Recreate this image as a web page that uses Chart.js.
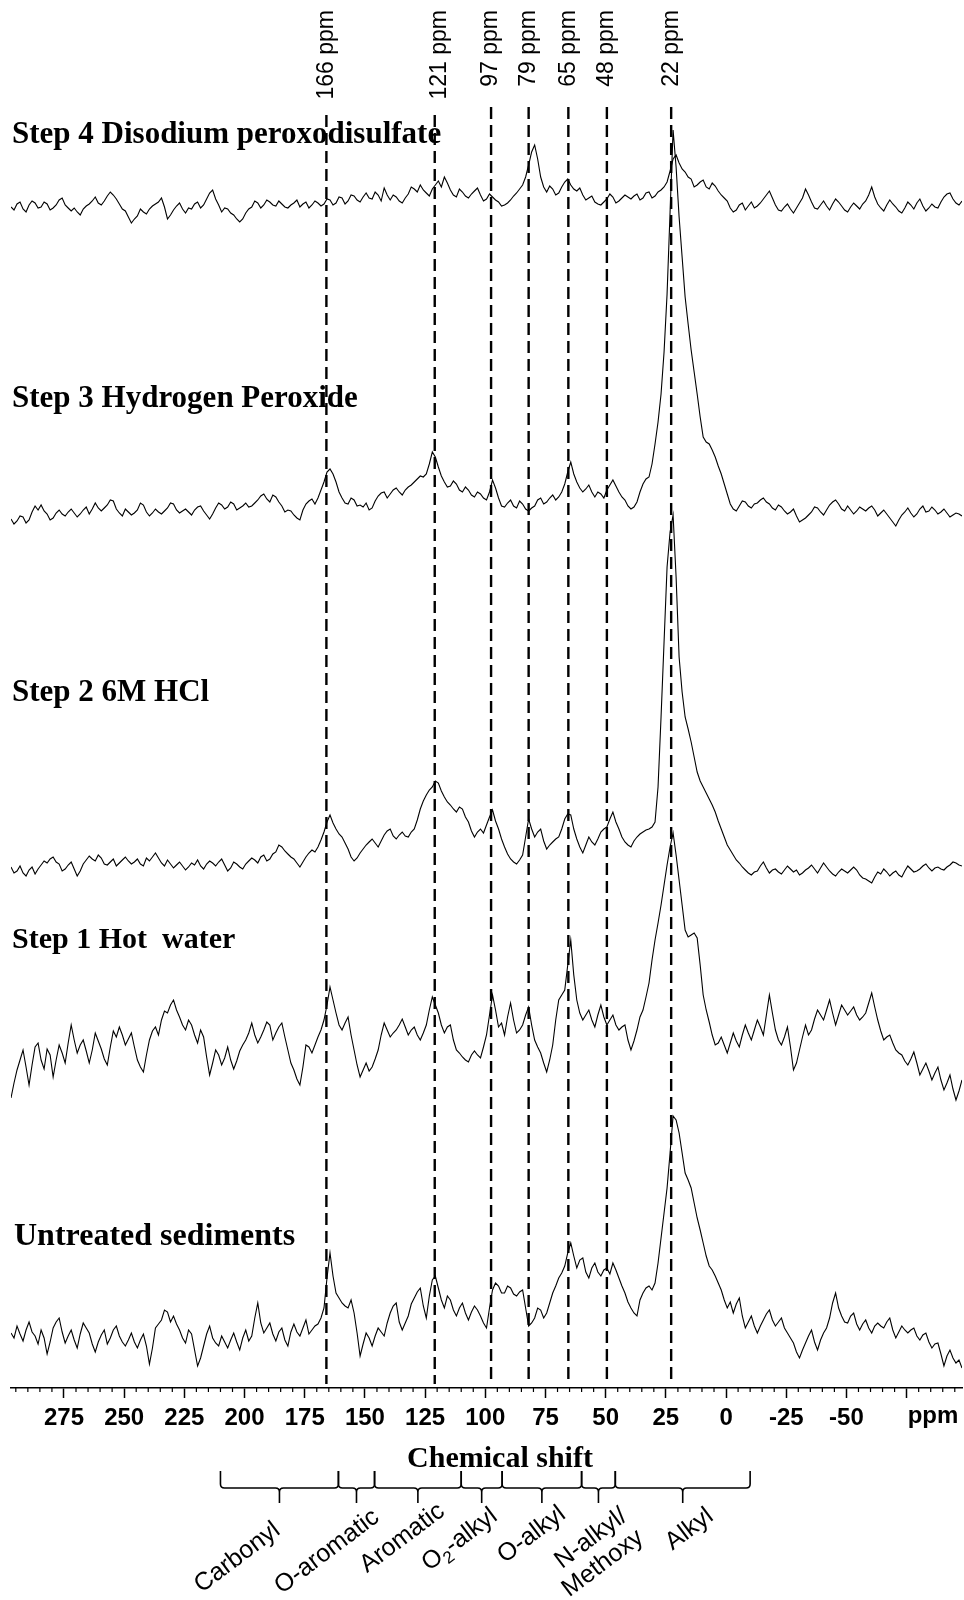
<!DOCTYPE html>
<html>
<head>
<meta charset="utf-8">
<script src="https://cdn.jsdelivr.net/npm/chart.js@4.4.1/dist/chart.umd.min.js"></script>
<style>
  body { margin: 0; background: #fff; }
  #wrap { width: 964px; height: 1600px; }
</style>
</head>
<body>
<div id="wrap"><canvas id="nmr" width="964" height="1600"></canvas></div>
<script>
// chemical shift grid (ppm), 1.25 ppm apart, left to right
const ppm = [297, 295.75, 294.5, 293.25, 292, 290.75, 289.5, 288.25,
  287, 285.75, 284.5, 283.25, 282, 280.75, 279.5, 278.25,
  277, 275.75, 274.5, 273.25, 272, 270.75, 269.5, 268.25,
  267, 265.75, 264.5, 263.25, 262, 260.75, 259.5, 258.25,
  257, 255.75, 254.5, 253.25, 252, 250.75, 249.5, 248.25,
  247, 245.75, 244.5, 243.25, 242, 240.75, 239.5, 238.25,
  237, 235.75, 234.5, 233.25, 232, 230.75, 229.5, 228.25,
  227, 225.75, 224.5, 223.25, 222, 220.75, 219.5, 218.25,
  217, 215.75, 214.5, 213.25, 212, 210.75, 209.5, 208.25,
  207, 205.75, 204.5, 203.25, 202, 200.75, 199.5, 198.25,
  197, 195.75, 194.5, 193.25, 192, 190.75, 189.5, 188.25,
  187, 185.75, 184.5, 183.25, 182, 180.75, 179.5, 178.25,
  177, 175.75, 174.5, 173.25, 172, 170.75, 169.5, 168.25,
  167, 165.75, 164.5, 163.25, 162, 160.75, 159.5, 158.25,
  157, 155.75, 154.5, 153.25, 152, 150.75, 149.5, 148.25,
  147, 145.75, 144.5, 143.25, 142, 140.75, 139.5, 138.25,
  137, 135.75, 134.5, 133.25, 132, 130.75, 129.5, 128.25,
  127, 125.75, 124.5, 123.25, 122, 120.75, 119.5, 118.25,
  117, 115.75, 114.5, 113.25, 112, 110.75, 109.5, 108.25,
  107, 105.75, 104.5, 103.25, 102, 100.75, 99.5, 98.25,
  97, 95.75, 94.5, 93.25, 92, 90.75, 89.5, 88.25,
  87, 85.75, 84.5, 83.25, 82, 80.75, 79.5, 78.25,
  77, 75.75, 74.5, 73.25, 72, 70.75, 69.5, 68.25,
  67, 65.75, 64.5, 63.25, 62, 60.75, 59.5, 58.25,
  57, 55.75, 54.5, 53.25, 52, 50.75, 49.5, 48.25,
  47, 45.75, 44.5, 43.25, 42, 40.75, 39.5, 38.25,
  37, 35.75, 34.5, 33.25, 32, 30.75, 29.5, 28.25,
  27, 25.75, 24.5, 23.25, 22, 20.75, 19.5, 18.25,
  17, 15.75, 14.5, 13.25, 12, 10.75, 9.5, 8.25,
  7, 5.75, 4.5, 3.25, 2, 0.75, -0.5, -1.75,
  -3, -4.25, -5.5, -6.75, -8, -9.25, -10.5, -11.75,
  -13, -14.25, -15.5, -16.75, -18, -19.25, -20.5, -21.75,
  -23, -24.25, -25.5, -26.75, -28, -29.25, -30.5, -31.75,
  -33, -34.25, -35.5, -36.75, -38, -39.25, -40.5, -41.75,
  -43, -44.25, -45.5, -46.75, -48, -49.25, -50.5, -51.75,
  -53, -54.25, -55.5, -56.75, -58, -59.25, -60.5, -61.75,
  -63, -64.25, -65.5, -66.75, -68, -69.25, -70.5, -71.75,
  -73, -74.25, -75.5, -76.75, -78, -79.25, -80.5, -81.75,
  -83, -84.25, -85.5, -86.75, -88, -89.25, -90.5, -91.75,
  -93, -94.25, -95.5, -96.75, -98];

// intensities above each trace's own baseline (arbitrary units)
const step4 = [0, -3, 3, 5, -2, -5, 2, 6, 4, -1, 0, 5, 3, -3, -1, 2, 7, 9, 2, -1,
  -4, -1, -5, -8, -2, 1, 3, 6, 10, 4, 2, 6, 11, 15, 12, 8, 3, -2, -4, -10,
  -16, -12, -9, -2, -5, -7, -2, 1, 3, 5, 9, 0, -12, -8, -3, 1, 4, -2, -6, -1,
  -2, 3, 5, -1, 2, 8, 14, 17, 8, 2, -5, -1, -2, -6, -8, -12, -15, -12, -6, -2,
  0, 6, 4, -1, 2, 7, 5, 2, 1, 6, 3, 0, -1, 2, 4, 7, 0, 3, 5, -1,
  2, 6, 4, 1, 3, 8, 7, 2, 4, 10, 9, 3, 6, 12, 11, 7, 5, 10, 14, 9,
  8, 15, 12, 6, 19, 12, 7, 12, 10, 6, 4, 9, 13, 20, 18, 15, 22, 17, 14, 11,
  18, 22, 26, 20, 30, 24, 17, 12, 10, 18, 15, 11, 9, 13, 16, 19, 12, 6, 8, 13,
  10, 7, 5, 1, 2, 4, 7, 11, 14, 18, 22, 30, 42, 55, 62, 48, 30, 20, 15, 21,
  18, 12, 14, 20, 25, 28, 22, 18, 16, 19, 12, 7, 9, 11, 5, 3, 2, 5, 8, 13,
  10, 4, 6, 9, 12, 10, 8, 11, 13, 7, 9, 14, 15, 9, 11, 15, 17, 20, 25, 36,
  48, 52, 44, 38, 35, 30, 28, 20, 22, 25, 27, 20, 18, 24, 21, 16, 12, 9, 6, -1,
  -5, -3, 2, 4, -3, 1, 5, -1, 1, 4, 8, 12, 16, 9, 2, -3, -4, 0, 3, -2,
  -6, -1, 4, 9, 18, 12, 5, -1, -2, 2, 6, 1, -3, 3, 8, 5, 1, -3, -5, 0,
  4, 1, -2, 3, 6, 12, 20, 10, 3, -1, -4, 2, 7, 3, 0, -4, -6, -1, 5, 2,
  -2, 4, 8, 1, -4, -1, 3, 0, -1, 5, 10, 13, 14, 8, 4, 2, 6];
const step3 = [-7, -12, -9, -4, -5, -11, -8, 0, 6, 2, 7, 1, -2, -8, -6, -1, 2, -2, -4, 0,
  3, -1, -5, -2, 2, 5, -2, 3, 9, 4, 1, 4, 7, 12, 11, 3, -1, -4, 3, 0,
  -3, -1, 2, 9, 7, 0, -4, -1, 3, 0, -2, 1, 4, 9, 8, 2, -1, 1, 3, 0,
  -3, 2, 5, 6, 1, -3, -7, -2, 4, 9, 7, 3, 5, 10, 8, 2, 4, 6, 9, 5,
  6, 9, 12, 16, 18, 13, 10, 17, 15, 10, 6, 0, 2, 1, -3, -6, -8, 2, 8, 11,
  13, 8, 14, 22, 30, 40, 43, 38, 30, 20, 14, 9, 8, 14, 12, 6, 7, 5, 9, 2,
  4, 11, 16, 19, 20, 14, 18, 22, 24, 20, 17, 22, 25, 27, 30, 33, 36, 35, 38, 48,
  60, 55, 45, 36, 30, 25, 26, 31, 28, 22, 20, 25, 22, 17, 15, 20, 18, 14, 12, 20,
  32, 24, 14, 6, 5, 9, 12, 6, 4, 11, 8, 3, 1, 4, 6, 12, 14, 8, 10, 14,
  17, 12, 15, 20, 28, 40, 50, 38, 30, 24, 20, 23, 27, 20, 15, 20, 18, 14, 22, 27,
  32, 26, 20, 15, 12, 6, 3, 5, 10, 20, 28, 33, 35, 48, 68, 90, 118, 160, 218, 300,
  382, 345, 295, 255, 215, 188, 162, 140, 118, 95, 75, 70, 68, 62, 55, 46, 38, 28, 18, 8,
  3, 1, 6, 11, 10, 6, 4, 8, 9, 12, 14, 10, 8, 4, 2, 7, 5, 1, -2, 0,
  3, -4, -10, -8, -6, -3, 0, 5, 4, 0, -3, 2, 7, 10, 12, 8, 3, 1, 6, 2,
  -2, 1, 5, 3, 1, 4, 6, 2, -4, -1, 2, -2, -6, -10, -14, -8, -3, 0, 4, -1,
  -5, -2, 3, 6, 0, 1, 5, 2, -2, 0, 3, -1, -5, -3, -1, -2, -4];
const step2 = [0, -6, -4, 1, -6, -9, -3, 0, -7, -2, 2, 6, 4, 8, 10, 5, 3, -4, -2, 2,
  5, -2, -9, -4, 3, 7, 11, 8, 6, 12, 9, 3, 2, 5, 8, 1, 4, 7, 10, 6,
  3, 5, 8, 3, 1, 9, 6, 10, 14, 9, 4, 1, 7, 3, -1, 2, 5, 1, -3, 0,
  4, 2, 7, 1, -2, 3, 6, 4, 1, 5, 8, 2, -4, -1, 5, 3, 0, -2, 3, 6,
  9, 7, 4, 10, 12, 6, 8, 13, 15, 22, 20, 16, 13, 10, 8, 4, 0, 5, 10, 14,
  17, 15, 20, 27, 35, 45, 52, 44, 38, 33, 30, 24, 18, 10, 6, 9, 14, 18, 22, 25,
  28, 24, 20, 26, 32, 36, 38, 31, 28, 32, 35, 31, 30, 35, 38, 47, 58, 66, 72, 77,
  80, 86, 84, 76, 70, 65, 62, 58, 55, 60, 58, 50, 45, 36, 30, 35, 38, 34, 42, 50,
  57, 46, 38, 28, 20, 13, 8, 5, 3, 7, 12, 30, 48, 38, 30, 35, 38, 26, 18, 22,
  25, 28, 30, 38, 48, 53, 52, 38, 28, 20, 14, 22, 30, 25, 22, 28, 35, 38, 40, 48,
  55, 45, 38, 30, 25, 22, 20, 26, 30, 33, 35, 37, 38, 40, 45, 80, 150, 225, 300, 335,
  352, 290, 210, 175, 150, 138, 125, 110, 95, 86, 80, 74, 68, 62, 55, 46, 38, 30, 22, 17,
  12, 7, 4, 0, -3, -6, -8, -5, -4, 1, 5, -1, -6, -3, -2, -5, -7, -3, 1, -2,
  -5, -3, -8, -6, -3, -1, 2, -2, -6, -1, 4, 0, -4, -7, -9, -5, -2, -4, -6, -3,
  0, -3, -8, -11, -12, -14, -16, -10, -5, -7, -2, -5, -9, -6, -4, -8, -10, -4, 1, -2,
  -5, -4, -2, 1, 3, -1, -4, -1, 0, -2, -3, 0, 2, 5, 4, 2, 1];
const step1 = [-43, -28, -15, -5, 5, -12, -30, -10, 8, 12, -5, -14, 6, 0, -22, -5, 10, 2, -8, 12,
  30, 15, 2, 10, 15, 4, -8, 5, 22, 14, 6, -4, -10, 8, 24, 18, 28, 20, 10, 16,
  22, 8, -5, -12, -17, 0, 15, 24, 28, 20, 35, 44, 42, 50, 55, 45, 38, 30, 25, 35,
  30, 20, 12, 25, 18, -2, -20, -8, 5, 0, -10, -3, 8, -5, -14, -6, 4, 10, 15, 22,
  32, 20, 12, 18, 25, 33, 30, 15, 22, 28, 32, 18, 5, -8, -15, -24, -30, -12, 10, 8,
  2, 10, 18, 25, 35, 50, 68, 55, 42, 30, 25, 32, 38, 20, 5, -10, -22, -15, -8, -16,
  -12, -4, 5, 20, 32, 25, 18, 22, 25, 30, 36, 28, 20, 25, 28, 20, 15, 22, 30, 45,
  58, 50, 42, 30, 22, 28, 30, 15, 5, 2, -2, -5, -7, 0, 4, 0, -3, 8, 20, 40,
  60, 45, 28, 32, 20, 38, 52, 35, 22, 25, 30, 40, 48, 30, 15, 8, 2, -8, -17, -5,
  10, 35, 55, 60, 65, 90, 115, 80, 55, 42, 35, 40, 45, 35, 28, 40, 50, 38, 30, 35,
  40, 30, 25, 28, 30, 15, 5, 14, 25, 38, 45, 58, 72, 95, 115, 132, 150, 170, 190, 208,
  222, 200, 175, 150, 125, 118, 120, 122, 117, 90, 60, 45, 33, 20, 10, 12, 18, 10, 2, 12,
  22, 14, 8, 20, 30, 22, 15, 25, 35, 28, 20, 40, 60, 42, 25, 15, 10, 18, 28, 8,
  -15, -8, 5, 18, 30, 20, 25, 36, 45, 40, 35, 45, 55, 42, 30, 40, 50, 45, 40, 44,
  48, 40, 35, 38, 42, 52, 62, 48, 35, 24, 15, 18, 20, 12, 5, 2, 0, -6, -10, -4,
  3, -8, -20, -14, -8, -16, -25, -18, -12, -25, -35, -28, -20, -34, -45, -36, -25];
const untreated = [5, 0, 12, 4, -3, 8, 16, 6, 2, -6, 8, 0, -16, -4, 10, 16, 20, 6, -5, 2,
  8, -2, -10, 4, 15, 10, 5, -6, -14, -4, 3, 8, -6, 0, 8, 12, 2, -4, -8, -2,
  5, -4, -10, -2, 4, -8, -26, -10, 10, 14, 18, 28, 26, 16, 22, 14, 8, 0, -5, 8,
  4, -12, -28, -20, -8, 4, 12, 0, -5, -8, 2, -4, -10, -2, 5, -4, -12, 0, 8, -3,
  2, 20, 35, 15, 5, 10, 15, 4, -3, 6, 10, -2, -8, 6, 14, 6, 2, 10, 18, 4,
  8, 12, 14, 20, 30, 60, 85, 62, 45, 40, 35, 32, 30, 38, 25, 5, -18, -6, 5, 0,
  -8, 2, 10, 6, 2, 15, 25, 32, 35, 16, 8, 15, 22, 34, 40, 46, 50, 32, 20, 42,
  58, 62, 50, 38, 30, 42, 38, 28, 22, 30, 35, 25, 18, 26, 32, 28, 22, 15, 10, 30,
  48, 55, 52, 45, 45, 52, 50, 44, 42, 46, 48, 30, 12, 15, 20, 30, 28, 20, 25, 35,
  45, 52, 60, 65, 72, 85, 95, 82, 70, 78, 80, 66, 60, 70, 75, 66, 62, 68, 70, 64,
  75, 68, 60, 52, 45, 36, 30, 25, 22, 38, 45, 50, 52, 48, 55, 75, 100, 125, 150, 185,
  222, 218, 205, 185, 165, 158, 150, 135, 120, 108, 95, 82, 72, 68, 62, 55, 48, 38, 30, 36,
  25, 34, 40, 22, 10, 16, 22, 12, 5, 12, 18, 24, 28, 18, 12, 16, 20, 10, 5, 0,
  -5, -14, -20, -12, -5, 2, 8, -4, -12, -2, 5, 10, 20, 35, 45, 30, 22, 16, 15, 22,
  25, 14, 8, 14, 18, 10, 5, 12, 15, 12, 10, 16, 20, 8, 0, 6, 12, 8, 5, 8,
  10, 2, -2, 3, 5, -4, -10, -6, -5, -16, -28, -18, -12, -20, -25, -22, -30];

const traceNames = ['Step 4 Disodium peroxodisulfate', 'Step 3 Hydrogen Peroxide', 'Step 2 6M HCl', 'Step 1 Hot  water', 'Untreated sediments'];
const traceSeries = [step4, step3, step2, step1, untreated];
const traceOffsets = [1181, 876, 521, 333, 50];   // vertical stacking of the spectra

const peakPpm = [166, 121, 97.6, 82, 65.5, 49.5, 22.8];
const peakLabels = ['166 ppm', '121 ppm', '97 ppm', '79 ppm', '65 ppm', '48 ppm', '22 ppm'];

const regionEdges = [210, 161, 146, 110, 93, 60, 46, -10];
const regionNames = ['Carbonyl', 'O-aromatic', 'Aromatic', 'O₂-alkyl', 'O-alkyl', 'N-alkyl/|Methoxy', 'Alkyl'];

const SERIF = '"Liberation Serif", "Times New Roman", serif';
const SANS = '"Liberation Sans", Arial, sans-serif';

// right-aligned text at the origin; a ₂ is drawn as a lowered small 2
function drawRegionText(ctx, str, y) {
  const parts = str.split('₂');
  ctx.font = '25px ' + SANS;
  if (parts.length === 1) {
    ctx.textAlign = 'right';
    ctx.fillText(str, 0, y);
    return;
  }
  const w0 = ctx.measureText(parts[0]).width;
  const w2 = ctx.measureText(parts[1]).width;
  ctx.font = '17px ' + SANS;
  const ws = ctx.measureText('2').width;
  let cx = -(w0 + ws + w2);
  ctx.textAlign = 'left';
  ctx.font = '25px ' + SANS;
  ctx.fillText(parts[0], cx, y);
  cx += w0;
  ctx.font = '17px ' + SANS;
  ctx.fillText('2', cx, y + 6);
  cx += ws;
  ctx.font = '25px ' + SANS;
  ctx.fillText(parts[1], cx, y);
}

const annotations = {
  id: 'annotations',
  afterDatasetsDraw(chart) {
    const ctx = chart.ctx;
    const xs = chart.scales.x;
    const dashTop = [115, 115, 107, 107, 107, 107, 107];
    ctx.save();
    ctx.strokeStyle = '#000';
    ctx.lineWidth = 2.4;
    ctx.setLineDash([12, 6]);
    peakPpm.forEach((p, i) => {
      const px = xs.getPixelForValue(p);
      ctx.beginPath();
      ctx.moveTo(px, dashTop[i]);
      ctx.lineTo(px, chart.chartArea.bottom - 4);
      ctx.stroke();
    });
    ctx.restore();
  },
  afterDraw(chart) {
    const ctx = chart.ctx;
    const xs = chart.scales.x;
    const axisY = chart.chartArea.bottom;
    ctx.save();
    ctx.fillStyle = '#000';
    ctx.strokeStyle = '#000';

    // minor ticks every 5 ppm
    ctx.lineWidth = 1.2;
    for (let v = -95; v <= 295; v += 5) {
      if (v % 25 === 0) continue;
      const px = xs.getPixelForValue(v);
      ctx.beginPath();
      ctx.moveTo(px, axisY);
      ctx.lineTo(px, axisY + 4);
      ctx.stroke();
    }

    // unit in place of the -75 label
    ctx.font = 'bold 24px ' + SANS;
    ctx.textAlign = 'center';
    ctx.textBaseline = 'top';
    ctx.fillText('ppm', 933, axisY + 16);

    // peak labels, rotated
    ctx.font = '23px ' + SANS;
    ctx.textBaseline = 'middle';
    peakPpm.forEach((p, i) => {
      const px = xs.getPixelForValue(p) + (i === 1 ? 5 : 0);
      ctx.save();
      ctx.translate(px, 10);
      ctx.rotate(-Math.PI / 2);
      ctx.textAlign = 'right';
      ctx.fillText(peakLabels[i], 0, 0);
      ctx.restore();
    });

    // trace names
    const nameY = [143, 407, 701, 948, 1245];
    const nameSize = [31, 31, 31, 30, 32];
    ctx.textAlign = 'left';
    ctx.textBaseline = 'alphabetic';
    traceNames.forEach((n, i) => {
      ctx.font = 'bold ' + nameSize[i] + 'px ' + SERIF;
      ctx.fillText(n, i === 4 ? 14 : 12, nameY[i]);
    });

    // axis title
    ctx.font = 'bold 30px ' + SERIF;
    ctx.textAlign = 'center';
    ctx.fillText('Chemical shift', 500, 1467);

    // region braces
    const top = 1471, hy = 1488, tipY = 1503, r = 4;
    const labelDx = [2, 24, 28, 17, 25, 30, 32];
    const labelY = [1533, 1520, 1514, 1519, 1517, 1519, 1519];
    ctx.lineWidth = 1.6;
    for (let i = 0; i < regionNames.length; i++) {
      const x0 = xs.getPixelForValue(regionEdges[i]);
      const x1 = xs.getPixelForValue(regionEdges[i + 1]);
      const tx = (x0 + x1) / 2;
      ctx.beginPath();
      ctx.moveTo(x0, top);
      ctx.lineTo(x0, hy - r);
      ctx.quadraticCurveTo(x0, hy, x0 + r, hy);
      ctx.lineTo(tx - r, hy);
      ctx.quadraticCurveTo(tx, hy, tx, hy + r);
      ctx.lineTo(tx, tipY);
      ctx.moveTo(tx, hy + r);
      ctx.quadraticCurveTo(tx, hy, tx + r, hy);
      ctx.lineTo(x1 - r, hy);
      ctx.quadraticCurveTo(x1, hy, x1, hy - r);
      ctx.lineTo(x1, top);
      ctx.stroke();

      // region label, slanted
      ctx.save();
      ctx.translate(tx + labelDx[i], labelY[i]);
      ctx.rotate(-37 * Math.PI / 180);
      ctx.textBaseline = 'alphabetic';
      regionNames[i].split('|').forEach((line, k) => drawRegionText(ctx, line, k * 27));
      ctx.restore();
    }
    ctx.restore();
  }
};

const datasets = traceSeries.map((s, k) => ({
  label: traceNames[k],
  data: ppm.map((p, i) => ({ x: p, y: traceOffsets[k] + s[i] })),
  borderColor: '#000',
  borderWidth: 1.1,
  pointRadius: 0,
  tension: 0,
  fill: false
}));

new Chart(document.getElementById('nmr'), {
  type: 'line',
  data: { datasets: datasets },
  options: {
    responsive: false,
    animation: false,
    layout: { padding: { left: 11, right: 2, top: 0, bottom: 0 } },
    plugins: { legend: { display: false }, tooltip: { enabled: false } },
    scales: {
      x: {
        type: 'linear',
        reverse: true,
        min: -98,
        max: 297,
        afterFit: (scale) => { scale.height = 212; },
        border: { display: true, color: '#000', width: 1.5 },
        grid: { drawOnChartArea: false, drawTicks: true, tickLength: 10, tickColor: '#000', tickWidth: 1.5 },
        ticks: {
          stepSize: 25,
          includeBounds: false,
          autoSkip: false,
          maxRotation: 0,
          padding: 6,
          color: '#000',
          font: { family: SANS, size: 24, weight: 'bold' },
          callback: (v) => (v >= -50 && v <= 275 ? String(v) : '')
        }
      },
      y: { display: false, min: 0, max: 1388 }
    }
  },
  plugins: [annotations]
});
</script>
</body>
</html>
